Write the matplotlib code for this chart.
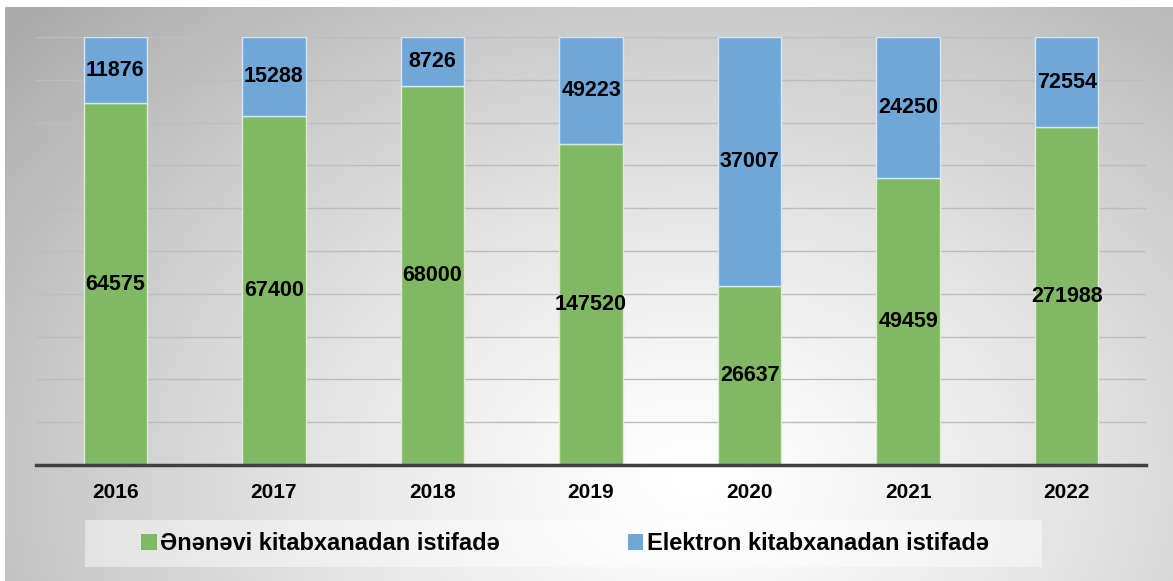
import numpy as np
import matplotlib
matplotlib.use("Agg")
import matplotlib.pyplot as plt
from matplotlib.patches import Patch, Rectangle

years = ["2016", "2017", "2018", "2019", "2020", "2021", "2022"]
traditional = [64575, 67400, 68000, 147520, 26637, 49459, 271988]
electronic = [11876, 15288, 8726, 49223, 37007, 24250, 72554]
series_names = ["Ənənəvi kitabxanadan istifadə", "Elektron kitabxanadan istifadə"]

green = "#80b864"
blue = "#70a7d9"
FONT = ["Liberation Sans", "DejaVu Sans"]
plt.rcParams["font.family"] = FONT

W, H = 1173, 581
fig = plt.figure(figsize=(W / 100, H / 100), dpi=100)
fig.patch.set_facecolor("white")

# background radial gradient
bg = fig.add_axes([5 / W, 0, 1 - 5 / W, 1 - 7 / H], zorder=-10)
yy, xx = np.mgrid[0:574, 0:1168]
cx, cy = 690, 470
r = np.sqrt(((xx - cx) / 760.0) ** 2 + ((yy - cy) / 560.0) ** 2)
val = 1.0 - 0.26 * np.clip(r, 0, 1.2) ** 1.3
img = np.dstack([val, val, val])
bg.imshow(np.clip(img, 0, 1), aspect="auto", interpolation="bilinear")
bg.axis("off")

ax = fig.add_axes([36 / W, 1 - 465 / H, (1146 - 36) / W, (465 - 37) / H])
ax.set_facecolor("none")

trad = np.array(traditional, float)
elec = np.array(electronic, float)
tot = trad + elec
ft = trad / tot
fe = elec / tot
x = np.arange(len(years))
bw = 0.40
ax.bar(x, ft, bw, color=green, edgecolor="#dcebd2", linewidth=1, zorder=3)
ax.bar(x, fe, bw, bottom=ft, color=blue, edgecolor="#d6e6f4", linewidth=1, zorder=3)

for i in range(len(years)):
    ax.text(x[i], ft[i] / 2, str(traditional[i]), ha="center", va="center",
            fontsize=15.5, fontweight="bold", color="black", zorder=5)
    ax.text(x[i], ft[i] + fe[i] / 2, str(electronic[i]), ha="center", va="center",
            fontsize=15.5, fontweight="bold", color="black", zorder=5)

ax.set_xlim(-0.5, len(years) - 0.5)
ax.set_ylim(0, 1)
ax.set_yticks(np.arange(0, 1.01, 0.1))
ax.yaxis.grid(True, color="#bdbdbd", linewidth=1)
ax.set_axisbelow(True)
ax.tick_params(axis="y", left=False, labelleft=False)
ax.tick_params(axis="x", bottom=False, length=0, pad=13)
ax.set_xticks(x)
ax.set_xticklabels(years, fontsize=15, fontweight="bold")
for s in ["top", "right", "left"]:
    ax.spines[s].set_visible(False)
ax.spines["bottom"].set_color("#404040")
ax.spines["bottom"].set_linewidth(2.5)
ax.spines["bottom"].set_zorder(6)

# legend box
fig.patches.append(Rectangle((85 / W, 1 - 567 / H), (1042 - 85) / W, 47 / H,
                             transform=fig.transFigure, facecolor="white",
                             alpha=0.45, edgecolor="none", zorder=0))
handles = [Patch(facecolor=green, edgecolor="none"), Patch(facecolor=blue, edgecolor="none")]
leg = fig.legend(handles, series_names, loc="center", bbox_to_anchor=(565 / W, 1 - 544 / H),
                 ncol=2, frameon=False, handlelength=0.65, handleheight=0.65,
                 handletextpad=0.15, columnspacing=5.4,
                 prop={"family": FONT, "weight": "bold", "size": 17})

fig.savefig("out.png", dpi=100)
